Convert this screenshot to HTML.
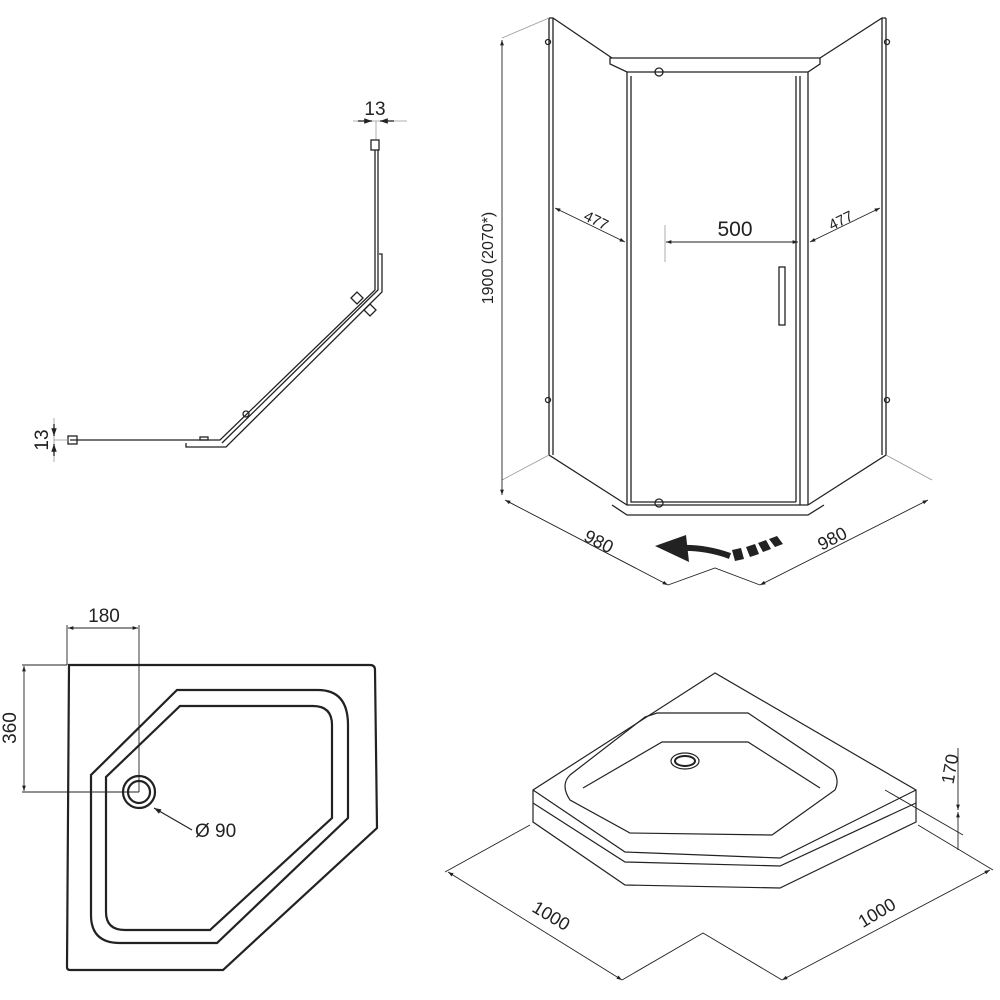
<!DOCTYPE html>
<html><head><meta charset="utf-8"><style>html,body{margin:0;padding:0;background:#fff}svg{display:block}text{font-family:"Liberation Sans",sans-serif;fill:#222}</style></head>
<body>
<svg width="1000" height="1000" viewBox="0 0 1000 1000" xmlns="http://www.w3.org/2000/svg">
<defs>
<marker id="a" viewBox="0 0 10 10" refX="10" refY="5" markerWidth="8" markerHeight="6" orient="auto-start-reverse"><path d="M0,1.5 L10,5 L0,8.5z" fill="#222"/></marker>
</defs>
<g fill="none" stroke="#222" stroke-width="1.3">
<line x1="353" y1="121" x2="407" y2="121" stroke="#999" stroke-width="0.8"/>
<line x1="376" y1="121" x2="376" y2="140" stroke="#999" stroke-width="0.8"/>
<line x1="358" y1="121" x2="372" y2="121" marker-end="url(#a)"/>
<line x1="394" y1="121" x2="380" y2="121" marker-end="url(#a)"/>
<rect x="371" y="140" width="8" height="10"/>
<path d="M375,150 L375,290 L220,440 L70,440"/>
<path d="M378,150 L378,290 L222,443"/>
<path d="M379,254 L382,254 L382,292 L226,447 L186,447 L186,443"/>
<path d="M351,298 l6,-6 l6,6 l-6,6z M364,310 l6,-6 l6,6 l-6,6z"/>
<circle cx="246" cy="414" r="3"/>
<rect x="200" y="437" width="8" height="3"/>
<rect x="68" y="436" width="9" height="8"/>
<line x1="54" y1="418" x2="54" y2="462" stroke="#999" stroke-width="0.8"/>
<line x1="54" y1="440" x2="68" y2="440" stroke="#999" stroke-width="0.8"/>
<line x1="54" y1="424" x2="54" y2="436" marker-end="url(#a)"/>
<line x1="54" y1="456" x2="54" y2="444" marker-end="url(#a)"/>

<path d="M549,18 L549,455 L627,505 M553,18 L553,455 M549,18 L553,18 L612,58"/>
<path d="M886,18 L886,455 L808,505 M882,18 L882,455 M886,18 L882,18 L820,58"/>
<path d="M610,58 L610,64 L627,72 L808,72 L820,64 L820,58 Z"/>
<path d="M627,72 L627,505 L808,505 M631,76 L631,502 L796,502 M800,76 L800,505 M796,76 L796,502 M808,72 L808,505"/>
<path d="M612,505 L627,515 L808,515 L824,505"/>
<rect x="779" y="267" width="6" height="58"/>
<circle cx="659" cy="72" r="4"/><circle cx="659" cy="503" r="4"/>
<circle cx="548" cy="42" r="2.5"/><circle cx="548" cy="400" r="2.5"/><circle cx="887" cy="42" r="2.5"/><circle cx="887" cy="400" r="2.5"/>
<line x1="549" y1="18" x2="502" y2="38" stroke="#999" stroke-width="0.8"/>
<line x1="549" y1="455" x2="502" y2="480" stroke="#999" stroke-width="0.8"/>
<line x1="502" y1="40" x2="502" y2="495" stroke-width="0.9" marker-start="url(#a)" marker-end="url(#a)"/>
<line x1="555" y1="208" x2="625" y2="242" stroke-width="0.9" marker-start="url(#a)" marker-end="url(#a)"/>
<line x1="810" y1="242" x2="880" y2="208" stroke-width="0.9" marker-start="url(#a)" marker-end="url(#a)"/>
<line x1="665" y1="225" x2="665" y2="262" stroke="#999" stroke-width="0.8"/>
<line x1="666" y1="242" x2="798" y2="242" stroke-width="0.9" marker-start="url(#a)" marker-end="url(#a)"/>
<line x1="886" y1="455" x2="932" y2="480" stroke="#999" stroke-width="0.8"/>
<line x1="505" y1="500" x2="668" y2="585" stroke-width="0.9" marker-start="url(#a)" marker-end="url(#a)"/>
<path d="M668,585 L715,568 L760,585" stroke-width="0.9"/>
<line x1="760" y1="585" x2="928" y2="500" stroke-width="0.9" marker-start="url(#a)" marker-end="url(#a)"/>
<path d="M730,556 Q705,547 680,548" stroke-width="6"/>
</g>
<path d="M655,546 L686,535 L689,562z" fill="#222"/>
<g fill="#222"><path d="M732,550 l9,-2 l3,11 l-9,2z M746,547 l9,-3 l4,10 l-9,3z M758,543 l8,-3 l5,9 l-8,3z M769,539 l8,-3 l6,8 l-8,3z"/></g>

<g fill="none" stroke="#222" stroke-width="2.2">
<path d="M69,665 L370,665 Q375,665 375,670 L377,828 L223,970 L70,970 Q67,970 67,967 Z"/>
<path d="M177,690 L318,690 Q348,690 348,725 L348,818 L217,943 L120,943 Q91,943 91,915 L91,775 Z"/>
<path d="M180,706 L313,706 Q332,706 332,725 L332,818 L210,930 L125,930 Q106,930 106,912 L106,777 Z"/>
<circle cx="139" cy="792" r="16"/><circle cx="139" cy="792" r="11"/>
</g>
<g fill="none" stroke="#222" stroke-width="0.9">
<line x1="67" y1="625" x2="67" y2="665"/><line x1="139" y1="625" x2="139" y2="792"/>
<line x1="68" y1="628" x2="138" y2="628" marker-start="url(#a)" marker-end="url(#a)"/>
<line x1="22" y1="665" x2="67" y2="665"/><line x1="22" y1="792" x2="139" y2="792"/>
<line x1="24" y1="666" x2="24" y2="791" marker-start="url(#a)" marker-end="url(#a)"/>
<line x1="192" y1="830" x2="154" y2="808" marker-end="url(#a)" stroke-width="1.2"/>
</g>

<g fill="none" stroke="#222" stroke-width="1.2">
<path d="M715,673 L533,790 L533,822 L625,885 L780,888 L916,822 L916,790 Z"/>
<path d="M533,790 L625,852 L780,858 L916,790"/>
<path d="M533,803 L625,862 L780,866 L916,803"/>
<path d="M657,713 L748,713 L833,770 Q840,780 835,790 L772,835 L630,833 L570,800 Q560,785 570,775 L645,717 Z"/>
<path d="M583,788 L662,742 L748,742 L820,788"/>
<ellipse cx="685" cy="761" rx="14" ry="8"/><ellipse cx="685" cy="761" rx="10" ry="5" stroke-width="2"/>
</g>
<g fill="none" stroke="#222" stroke-width="0.9">
<line x1="530" y1="825" x2="445" y2="872"/>
<line x1="448" y1="872" x2="622" y2="980" marker-start="url(#a)" marker-end="url(#a)"/>
<path d="M622,980 L703,933 L782,980"/>
<line x1="918" y1="825" x2="993" y2="870"/>
<line x1="782" y1="980" x2="990" y2="870" marker-start="url(#a)" marker-end="url(#a)"/>
<line x1="885" y1="790" x2="963" y2="835"/>
<line x1="958" y1="748" x2="958" y2="810" marker-end="url(#a)"/>
<line x1="958" y1="850" x2="958" y2="812" marker-end="url(#a)"/>
</g>

<text x="375" y="115" font-size="19" text-anchor="middle">13</text>
<text transform="translate(48,440) rotate(-90)" font-size="19" text-anchor="middle">13</text>
<text transform="translate(493,258) rotate(-90)" font-size="16" text-anchor="middle">1900 (2070*)</text>
<text transform="translate(594,225) rotate(26)" font-size="15" text-anchor="middle">477</text>
<text transform="translate(843,225) rotate(-26)" font-size="15" text-anchor="middle">477</text>
<text x="735" y="236" font-size="21" text-anchor="middle">500</text>
<text transform="translate(596,547) rotate(27)" font-size="18" text-anchor="middle">980</text>
<text transform="translate(835,544) rotate(-27)" font-size="18" text-anchor="middle">980</text>
<text x="104" y="622" font-size="19" text-anchor="middle">180</text>
<text transform="translate(16,728) rotate(-90)" font-size="19" text-anchor="middle">360</text>
<text x="195" y="837" font-size="19">Ø 90</text>
<text transform="translate(548,921) rotate(31)" font-size="18" text-anchor="middle">1000</text>
<text transform="translate(880,918) rotate(-31)" font-size="18" text-anchor="middle">1000</text>
<text transform="translate(956,770) rotate(-80)" font-size="18" text-anchor="middle">170</text>
</svg>
</body></html>
